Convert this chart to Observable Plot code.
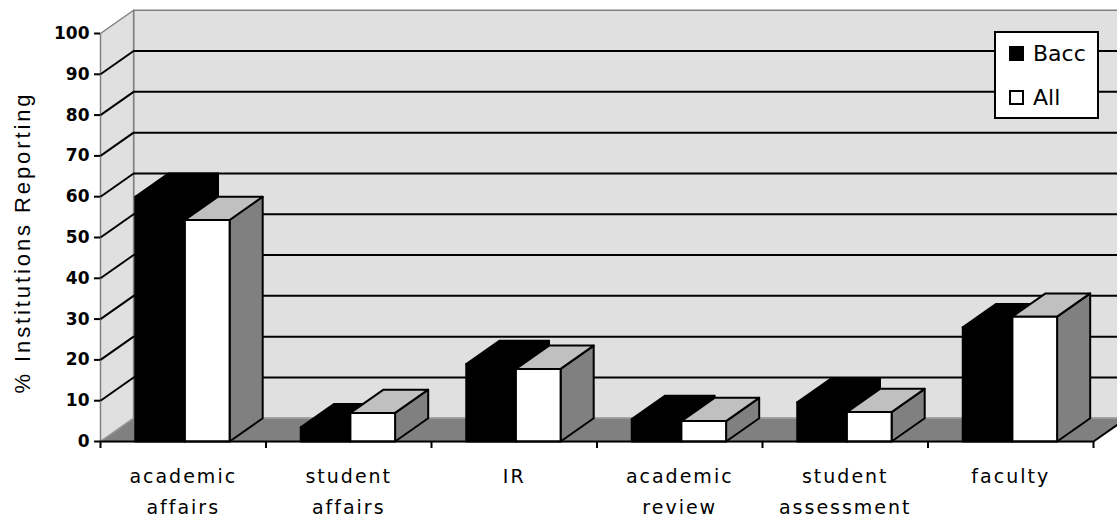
<!DOCTYPE html>
<html><head><meta charset="utf-8">
<script src="https://cdn.jsdelivr.net/npm/d3@7"></script>
<script src="https://cdn.jsdelivr.net/npm/@observablehq/plot@0.6"></script>
<style>
html,body{margin:0;padding:0;background:#fff;overflow:hidden}
#wrap{position:relative;width:1117px;height:519px}
#legend{position:absolute;left:994px;top:31px;width:101px;height:84px;border:2px solid #000;background:#fff;font-family:"DejaVu Sans",sans-serif;font-size:22px;color:#000}
#legend .row{position:absolute;left:13px;height:24px;display:flex;align-items:center}
#legend .sw{width:11px;height:11px;border:2px solid #000;margin-right:9px}
</style>
</head><body>
<div id="wrap"></div>
<script>
// ---- data ----
const categories = ["academic affairs", "student affairs", "IR", "academic review", "student assessment", "faculty"];
const tickLabels = ["academic\naffairs", "student\naffairs", "IR", "academic\nreview", "student\nassessment", "faculty"];
const series = ["Bacc", "All"];
const baccValues = [60, 3.5, 19, 5.5, 9.6, 28];
const allValues = [54.3, 7, 17.8, 5, 7.2, 30.6];
const yTicks = [0, 10, 20, 30, 40, 50, 60, 70, 80, 90, 100];
const gridValues = [10, 20, 30, 40, 50, 60, 70, 80, 90];
const yTitle = "% Institutions Reporting";

// ---- 3D geometry (in data units) ----
const N = categories.length;
const DX = 0.2, DY = 5.7;
const values = {Bacc: baccValues, All: allValues};
const slots = {Bacc: [0.21, 0.51], All: [0.51, 0.78]};
const faces = {
  Bacc: {front: "#000000", top: "#000000", side: "#000000"},
  All: {front: "#ffffff", top: "#c0c0c0", side: "#808080"}
};
const swatch = {Bacc: "#000000", All: "#ffffff"};

function addPoly(rows, id, pts, fill, stroke) {
  [...pts, pts[0]].forEach(([x, y]) => rows.push({id, x, y, fill, stroke}));
}
const wallRows = [];
addPoly(wallRows, "back", [[DX, DY], [N + 0.5, DY], [N + 0.5, 100 + DY], [DX, 100 + DY]], "#e0e0e0", "#808080");
addPoly(wallRows, "left", [[0, 0], [DX, DY], [DX, 100 + DY], [0, 100]], "#e0e0e0", "#808080");
const floorRows = [];
addPoly(floorRows, "floor", [[0, 0], [N, 0], [N + DX, DY], [DX, DY]], "#808080", "#9a9a9a");

const barRows = [];
categories.forEach((c, i) => {
  series.forEach(s => {
    const v = values[s][i];
    const x0 = i + slots[s][0], x1 = i + slots[s][1];
    const f = faces[s];
    addPoly(barRows, `${c}-${s}-side`, [[x1, 0], [x1 + DX, DY], [x1 + DX, v + DY], [x1, v]], f.side, "#000");
    addPoly(barRows, `${c}-${s}-top`, [[x0, v], [x0 + DX, v + DY], [x1 + DX, v + DY], [x1, v]], f.top, "#000");
    addPoly(barRows, `${c}-${s}-front`, [[x0, 0], [x1, 0], [x1, v], [x0, v]], f.front, "#000");
  });
});
const xTicks = d3.range(N + 1);

const chart = Plot.plot({
  width: 1117, height: 519,
  marginLeft: 100, marginRight: 24, marginTop: 33, marginBottom: 78,
  x: {domain: [0, N], axis: null},
  y: {domain: [0, 100], axis: null},
  color: {type: "identity"},
  style: {overflow: "hidden", background: "transparent"},
  marks: [
    Plot.line(wallRows, {x: "x", y: "y", z: "id", fill: "fill", stroke: "stroke", strokeWidth: 1.5, curve: "linear"}),
    Plot.ruleY(gridValues, {y: d => d + DY, x1: DX, x2: N + 0.5, stroke: "#000", strokeWidth: 2}),
    Plot.link(gridValues, {x1: 0, y1: d => d, x2: DX, y2: d => d + DY, stroke: "#000", strokeWidth: 2}),
    Plot.line(floorRows, {x: "x", y: "y", z: "id", fill: "fill", stroke: "stroke", strokeWidth: 1.5, curve: "linear"}),
    Plot.line(barRows, {x: "x", y: "y", z: "id", fill: "fill", stroke: "stroke", strokeWidth: 2, strokeLinejoin: "round", curve: "linear"}),
    Plot.ruleY([0], {x1: 0, x2: N, stroke: "#000", strokeWidth: 2}),
    Plot.link([N], {x1: d => d, y1: 0, x2: d => d + DX, y2: DY, stroke: "#000", strokeWidth: 2}),
    Plot.axisY({ticks: yTicks, tickSize: 6, tickPadding: 5, fontSize: 17, fontWeight: "bold", fontFamily: "DejaVu Sans", strokeWidth: 2, label: null}),
    Plot.axisX({ticks: xTicks, tickSize: 7, tickFormat: () => "", strokeWidth: 2, label: null}),
    Plot.text(tickLabels, {x: (d, i) => i + 0.5, y: 0, text: d => d, dy: 19, lineAnchor: "top", lineHeight: 1.65, fontSize: 19, fontFamily: "DejaVu Sans", fill: "#000"}),
    Plot.text([yTitle], {frameAnchor: "left", text: d => d, textAnchor: "middle", dx: -78, dy: 5, rotate: -90, fontSize: 22, fontFamily: "Liberation Sans", fill: "#000"})
  ]
});
document.getElementById("wrap").appendChild(chart);

// letter spacing for the category labels and the y title
chart.querySelectorAll("text").forEach(t => {
  const s = t.textContent;
  if (s === yTitle) t.setAttribute("letter-spacing", "2.9px");
  else if (categories.some(c => c.replace(/\s/g, "") === s.replace(/\s/g, ""))) t.setAttribute("letter-spacing", "2px");
});

// legend (inside the plot area, top right)
const legend = document.createElement("div");
legend.id = "legend";
series.forEach((s, k) => {
  const row = document.createElement("div");
  row.className = "row";
  row.style.top = (8 + k * 44) + "px";
  const sw = document.createElement("div");
  sw.className = "sw";
  sw.style.background = swatch[s];
  const t = document.createElement("span");
  t.textContent = s;
  row.appendChild(sw); row.appendChild(t);
  legend.appendChild(row);
});
document.getElementById("wrap").appendChild(legend);
</script>
</body></html>
